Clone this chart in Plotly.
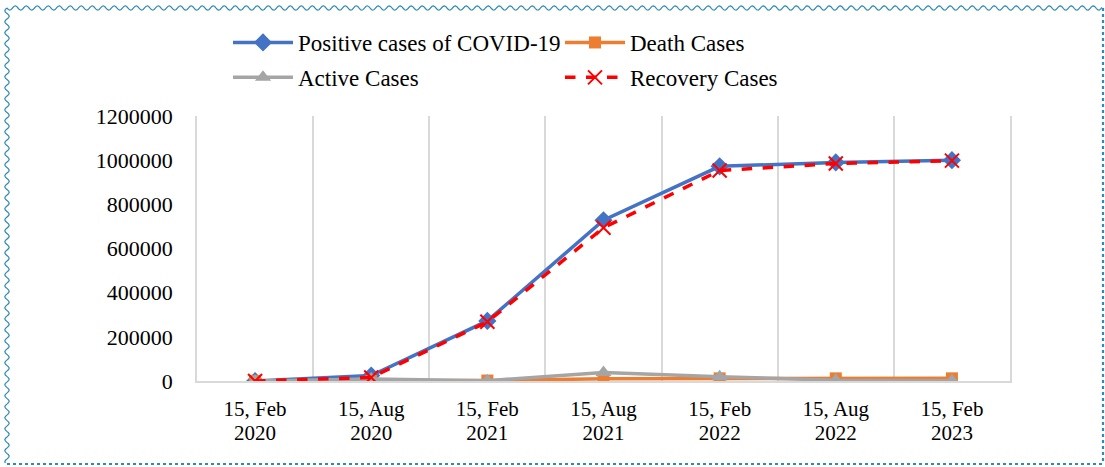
import numpy as np
import plotly.graph_objects as go

categories = ["15, Feb 2020", "15, Aug 2020", "15, Feb 2021", "15, Aug 2021",
              "15, Feb 2022", "15, Aug 2022", "15, Feb 2023"]
tick_dates = ["15, Feb", "15, Aug", "15, Feb", "15, Aug", "15, Feb", "15, Aug", "15, Feb"]
tick_years = ["2020", "2020", "2021", "2021", "2022", "2022", "2023"]
positive = [1, 25000, 272000, 728000, 972000, 990000, 1000000]
death = [0, 100, 2050, 10200, 11950, 12000, 12020]
active = [1, 9000, 1500, 39000, 19000, 3500, 1200]
recovery = [0, 16000, 268000, 694000, 953000, 985000, 998000]
y_ticks = [0, 200000, 400000, 600000, 800000, 1000000, 1200000]

W, H = 1105, 467
L, R, T, B = 197, 1010, 116, 381

def px(x):
    return (x - L) / (R - L)

def py(y):
    return (B - y) / (B - T)

fig = go.Figure()
fig.add_trace(go.Scatter(x=categories, y=positive, name="Positive cases of COVID-19",
                         mode="lines+markers", line=dict(color="#4472C4", width=3.5),
                         marker=dict(symbol="diamond", size=14, color="#4472C4"),
                         legend="legend", legendgroup="a"))
fig.add_trace(go.Scatter(x=categories, y=death, name="Death Cases",
                         mode="lines+markers", line=dict(color="#ED7D31", width=3.5),
                         marker=dict(symbol="square", size=12, color="#ED7D31"),
                         legend="legend2", legendgroup="b"))
fig.add_trace(go.Scatter(x=categories, y=active, name="Active Cases",
                         mode="lines+markers", line=dict(color="#A5A5A5", width=3.5),
                         marker=dict(symbol="triangle-up", size=14, color="#A5A5A5"),
                         legend="legend", legendgroup="c"))
fig.add_trace(go.Scatter(x=categories, y=recovery, name="Recovery Cases",
                         mode="lines+markers", line=dict(color="#FF0000", width=3.5, dash="dash"),
                         marker=dict(symbol="x-thin-open", size=14, color="#FF0000",
                                     line=dict(color="#FF0000", width=2)),
                         legend="legend2", legendgroup="d"))
# empty trace so the second (year) label axis is drawn
fig.add_trace(go.Scatter(x=[], y=[], xaxis="x2", yaxis="y", showlegend=False,
                         hoverinfo="skip"))

# decorative border
shapes = []
def wave_path(x0, y0, x1, y1, period=11, amp=2.2):
    length = np.hypot(x1 - x0, y1 - y0)
    n = int(round(length / period * 8))
    t = np.linspace(0, 1, n + 1)
    xs = x0 + (x1 - x0) * t
    ys = y0 + (y1 - y0) * t
    nx, ny = -(y1 - y0) / length, (x1 - x0) / length
    off = amp * np.sin(2 * np.pi * t * length / period)
    xs = xs + nx * off
    ys = ys + ny * off
    pts = [f"{px(a):.5f},{py(b):.5f}" for a, b in zip(xs, ys)]
    return "M " + " L ".join(pts)

border_color = "#2E8AB8"
for (x0, y0, x1, y1) in [(7, 8, 1102, 8), (7, 8, 7, 463)]:
    shapes.append(dict(type="path", xref="paper", yref="paper", path=wave_path(x0, y0, x1, y1),
                       line=dict(color=border_color, width=1.2), layer="below"))
for (x0, y0, x1, y1) in [(1103, 8, 1103, 463), (7, 464, 1103, 464)]:
    shapes.append(dict(type="line", xref="paper", yref="paper", x0=px(x0), y0=py(y0),
                       x1=px(x1), y1=py(y1), line=dict(color=border_color, width=2.2, dash="dot"),
                       layer="below"))

tfont = dict(family="Liberation Serif", size=22, color="#000000")
xfont = dict(family="Liberation Serif", size=21, color="#000000")
lfont = dict(family="Liberation Serif", size=23, color="#000000")
fig.update_layout(
    width=W, height=H,
    margin=dict(l=L, r=W - R, t=T, b=H - B, autoexpand=False),
    paper_bgcolor="white", plot_bgcolor="white",
    font=tfont,
    shapes=shapes,
    xaxis=dict(type="category", tickson="boundaries", showgrid=True, gridcolor="#D9D9D9",
               gridwidth=1.5, ticks="", showline=True, linecolor="#D9D9D9", linewidth=1.5,
               range=[-0.5, 6.5], tickvals=categories, ticktext=tick_dates, tickfont=xfont,
               zeroline=False, ticklabelstandoff=8),
    xaxis2=dict(overlaying="x", anchor="y", side="bottom", type="linear", range=[-0.5, 6.5],
                tickvals=list(range(len(tick_years))), ticktext=tick_years, tickfont=xfont,
                showgrid=False, zeroline=False, ticks="", showline=False, ticklabelstandoff=37),
    yaxis=dict(range=[0, 1200000], tickvals=y_ticks, ticktext=[str(v) for v in y_ticks],
               showgrid=False, zeroline=False, ticks="", tickfont=tfont, ticklabelstandoff=18,
               showline=True, mirror=True, linecolor="#D9D9D9", linewidth=1.5),
    legend=dict(x=px(228), y=py(21), xanchor="left", yanchor="top", orientation="v",
                font=lfont, itemwidth=60, tracegroupgap=2, bgcolor="rgba(0,0,0,0)"),
    legend2=dict(x=px(560), y=py(21), xanchor="left", yanchor="top", orientation="v",
                 font=lfont, itemwidth=60, tracegroupgap=2, bgcolor="rgba(0,0,0,0)"),
)
fig.write_html("out.html", post_script="document.body.style.margin='0';",
               config={"displayModeBar": False})
